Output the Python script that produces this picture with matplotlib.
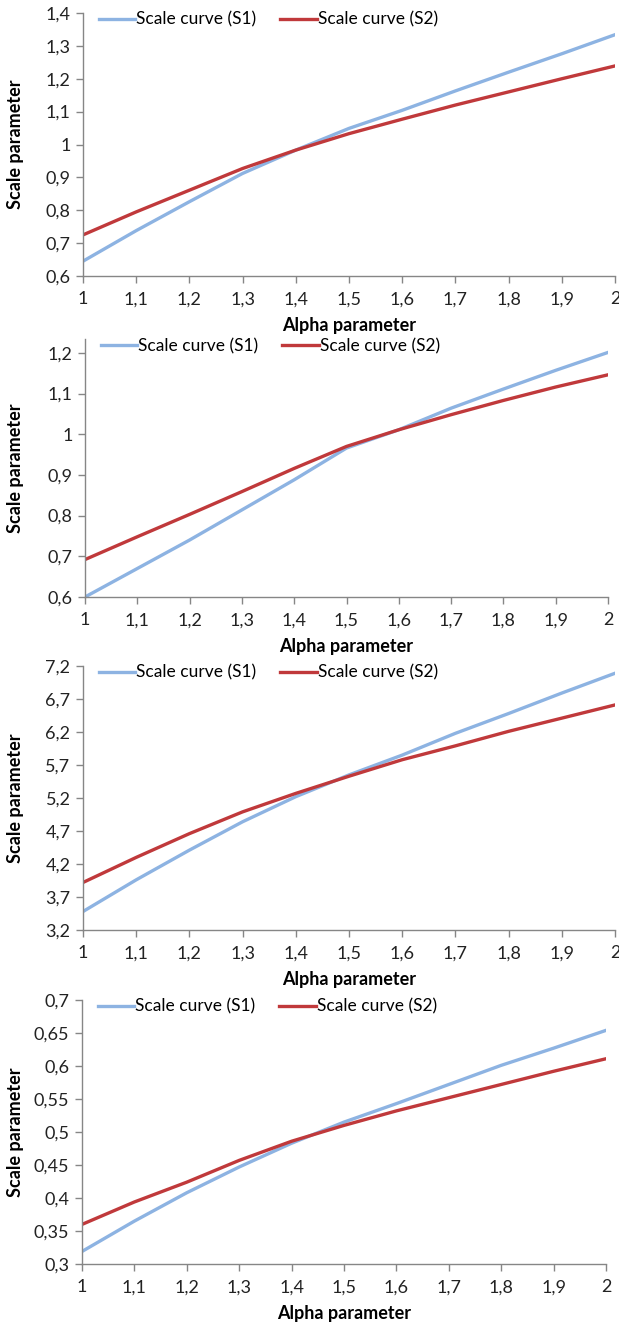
import matplotlib.pyplot as plt
from matplotlib.ticker import FuncFormatter

alpha = [1.0, 1.1, 1.2, 1.3, 1.4, 1.5, 1.6, 1.7, 1.8, 1.9, 2.0]

s1_a = [0.645, 0.738, 0.826, 0.912, 0.983, 1.049, 1.104, 1.163, 1.220, 1.276, 1.334]
s2_a = [0.725, 0.795, 0.861, 0.927, 0.983, 1.033, 1.077, 1.120, 1.160, 1.200, 1.239]

s1_b = [0.600, 0.670, 0.740, 0.814, 0.888, 0.966, 1.011, 1.064, 1.111, 1.157, 1.201]
s2_b = [0.692, 0.748, 0.803, 0.859, 0.916, 0.970, 1.011, 1.048, 1.083, 1.116, 1.146]

s1_c = [3.48, 3.96, 4.41, 4.84, 5.22, 5.55, 5.85, 6.18, 6.48, 6.79, 7.09]
s2_c = [3.92, 4.30, 4.66, 4.99, 5.27, 5.53, 5.78, 5.99, 6.21, 6.41, 6.61]

s1_d = [0.319, 0.365, 0.408, 0.447, 0.483, 0.515, 0.543, 0.572, 0.601, 0.627, 0.654]
s2_d = [0.360, 0.394, 0.424, 0.457, 0.486, 0.510, 0.532, 0.552, 0.572, 0.592, 0.611]

x_ticks = [1.0, 1.1, 1.2, 1.3, 1.4, 1.5, 1.6, 1.7, 1.8, 1.9, 2.0]

panels = [
    (s1_a, s2_a, [0.6, 0.7, 0.8, 0.9, 1.0, 1.1, 1.2, 1.3, 1.4], (0.6, 1.4), (83, 615, 13, 276)),
    (s1_b, s2_b, [0.6, 0.7, 0.8, 0.9, 1.0, 1.1, 1.2], (0.6, 1.234), (85, 608, 339, 597)),
    (s1_c, s2_c, [3.2, 3.7, 4.2, 4.7, 5.2, 5.7, 6.2, 6.7, 7.2], (3.2, 7.2), (83, 615, 666, 930)),
    (s1_d, s2_d, [0.3, 0.35, 0.4, 0.45, 0.5, 0.55, 0.6, 0.65, 0.7], (0.3, 0.7), (82, 606, 1000, 1264)),
]

plt.rcParams['font.family'] = ['Lato', 'DejaVu Sans']

W, H = 619, 1322
fig = plt.figure(figsize=(W / 100, H / 100), dpi=100)

blue = '#8db3e2'
red = '#c0393b'
axis_col = '#868686'


def comma(v, pos):
    s = ('%.2f' % v).rstrip('0').rstrip('.')
    return s.replace('.', ',')


for s1, s2, yt, ylim, (l, r, t, b) in panels:
    ax = fig.add_axes([l / W, 1 - b / H, (r - l) / W, (b - t) / H])
    ax.plot(alpha, s1, color=blue, lw=2.4, label='Scale curve (S1)')
    ax.plot(alpha, s2, color=red, lw=2.4, label='Scale curve (S2)')
    ax.set_xlim(1, 2)
    ax.set_ylim(*ylim)
    ax.set_xticks(x_ticks)
    ax.set_yticks(yt)
    ax.xaxis.set_major_formatter(FuncFormatter(comma))
    ax.yaxis.set_major_formatter(FuncFormatter(comma))
    for side in ['top', 'right']:
        ax.spines[side].set_visible(False)
    for side in ['left', 'bottom']:
        ax.spines[side].set_color(axis_col)
        ax.spines[side].set_linewidth(1.0)
    ax.tick_params(direction='out', length=5, width=1, color=axis_col,
                   labelsize=13, labelcolor='#222222')
    ax.tick_params(axis='x', pad=6)
    ax.tick_params(axis='y', pad=4)
    ax.set_xlabel('Alpha parameter', fontsize=13, fontweight='bold', labelpad=7)
    ax.set_ylabel('Scale parameter', fontsize=13, fontweight='bold')
    ax.yaxis.set_label_coords((24 - l) / (r - l), 0.5)
    ax.legend(loc='upper left', bbox_to_anchor=(0.0, 1.065), ncol=2, frameon=False,
              fontsize=12.5, handlelength=2.1, handletextpad=0.05, columnspacing=1.4)

fig.savefig('out.png', dpi=100)
